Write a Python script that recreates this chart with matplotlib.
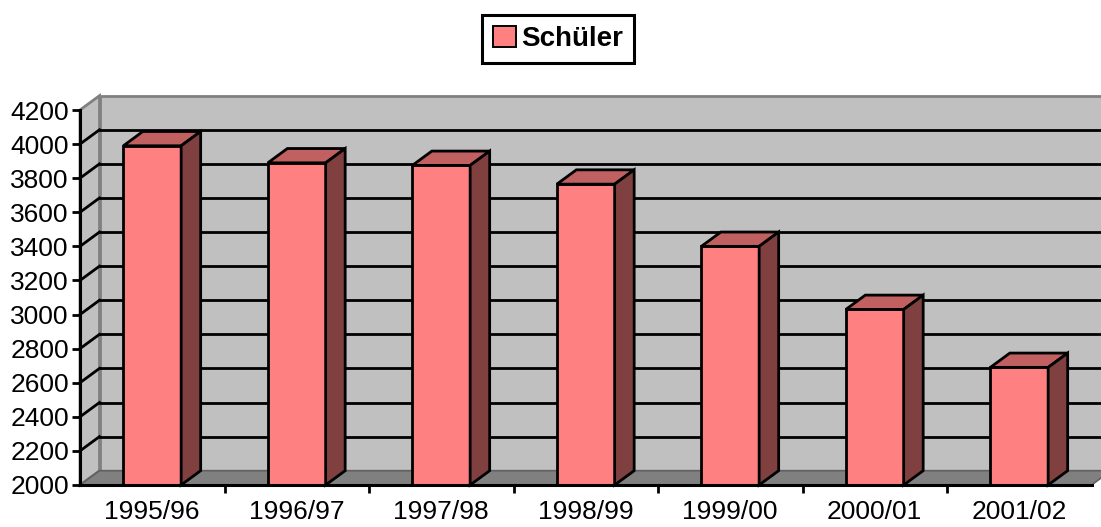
import matplotlib
matplotlib.use("Agg")
import matplotlib.pyplot as plt
from matplotlib.patches import Polygon, Patch
import numpy as np

plt.rcParams['font.family'] = ['Liberation Sans', 'DejaVu Sans']

# data
jahre = ["1995/96", "1996/97", "1997/98", "1998/99", "1999/00", "2000/01", "2001/02"]
schueler = [3990, 3890, 3875, 3765, 3400, 3030, 2690]
y_ticks = list(range(2000, 4201, 200))

# 3d look: depth offset in data units
DX = 0.135
DY = 84
W = 0.40
YMIN, YMAX = 2000, 4200

fig = plt.figure(figsize=(11.01, 5.27), dpi=100)
ax = fig.add_axes([80 / 1101, 42 / 527, 1011.5 / 1101, 375 / 527])
ax.set_xlim(-0.5, len(jahre) - 0.5)
ax.set_ylim(YMIN, YMAX)
ax.patch.set_visible(False)

x0, x1 = -0.5, len(jahre) - 0.5
LW = 2.0

# walls
back = Polygon([(x0 + DX, YMIN + DY), (x1 + DX, YMIN + DY), (x1 + DX, YMAX + DY), (x0 + DX, YMAX + DY)],
               closed=True, facecolor="#c0c0c0", edgecolor="#808080", lw=LW, clip_on=False, zorder=0)
left = Polygon([(x0, YMIN), (x0 + DX, YMIN + DY), (x0 + DX, YMAX + DY), (x0, YMAX)],
               closed=True, facecolor="#c0c0c0", edgecolor="#808080", lw=LW, clip_on=False, zorder=0)
ax.add_patch(back)
ax.add_patch(left)

# gridlines on back and left wall
for v in y_ticks[1:-1]:
    ax.plot([x0 + DX, x1 + DX], [v + DY, v + DY], color="black", lw=LW, clip_on=False, zorder=1)
    ax.plot([x0, x0 + DX], [v, v + DY], color="black", lw=LW, clip_on=False, zorder=1)

# floor
floor = Polygon([(x0, YMIN), (x1, YMIN), (x1 + DX, YMIN + DY), (x0 + DX, YMIN + DY)],
                closed=True, facecolor="#808080", edgecolor="#606060", lw=1.2, clip_on=False, zorder=2)
ax.add_patch(floor)

# bars
x = np.arange(len(jahre))
vals = np.array(schueler)
ax.bar(x, vals - YMIN, bottom=YMIN, width=W, color="#ff8080", edgecolor="black", lw=LW, zorder=3)
for xi, v in zip(x, vals):
    top = Polygon([(xi - W / 2, v), (xi + W / 2, v), (xi + W / 2 + DX, v + DY), (xi - W / 2 + DX, v + DY)],
                  closed=True, facecolor="#c06060", edgecolor="black", lw=LW, clip_on=False, zorder=3)
    side = Polygon([(xi + W / 2, YMIN), (xi + W / 2 + DX, YMIN + DY), (xi + W / 2 + DX, v + DY), (xi + W / 2, v)],
                   closed=True, facecolor="#804040", edgecolor="black", lw=LW, clip_on=False, zorder=3)
    ax.add_patch(top)
    ax.add_patch(side)

# axes
for s in ["top", "right"]:
    ax.spines[s].set_visible(False)
for s in ["left", "bottom"]:
    ax.spines[s].set_linewidth(2.2)
    ax.spines[s].set_zorder(5)

ax.set_yticks(y_ticks)
ax.tick_params(axis="y", direction="out", length=6, width=2, labelsize=19, pad=2)
ax.set_xticks(x)
ax.set_xticklabels(jahre)
ax.set_xticks(np.arange(0.5, len(jahre) - 0.5, 1), minor=True)
ax.tick_params(axis="x", which="major", length=0, labelsize=19, pad=11)
ax.tick_params(axis="x", which="minor", direction="out", length=6, width=2)

# legend
leg = fig.legend(handles=[Patch(facecolor="#ff8080", edgecolor="black", lw=1.4)], labels=["Schüler"],
                 loc="center", bbox_to_anchor=(0.507, 0.926), fancybox=False, framealpha=1,
                 edgecolor="black", prop={"weight": "bold", "size": 20},
                 handlelength=0.8, handleheight=0.8, handletextpad=0.2, borderpad=0.4)
leg.get_frame().set_linewidth(2.2)

fig.savefig("out.png", dpi=100)
